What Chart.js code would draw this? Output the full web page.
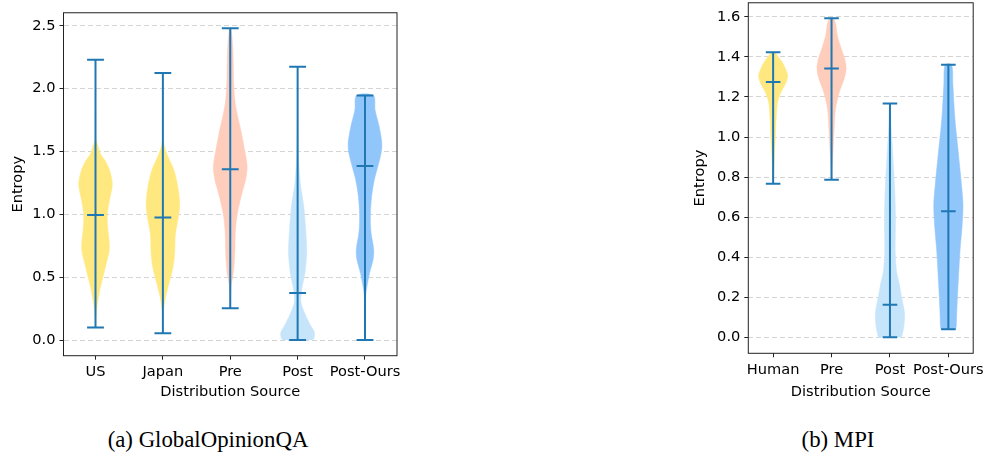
<!DOCTYPE html>
<html>
<head>
<meta charset="utf-8">
<script src="https://cdn.jsdelivr.net/npm/chart.js@4.4.1/dist/chart.umd.min.js"></script>
<style>
  body { margin: 0; width: 989px; height: 458px; overflow: hidden; background: #fff; position: relative; }
  #c1 { position: absolute; left: 0; top: 0; }
  #c2 { position: absolute; left: 680px; top: -10px; }
  .cap { position: absolute; top: 427px; width: 320px; text-align: center; font-family: 'Liberation Serif', serif;
         font-size: 24px; line-height: 24px; color: #000; transform: scaleX(0.95); white-space: nowrap; }
</style>
</head>
<body>
<canvas id="c1" width="410" height="410"></canvas>
<canvas id="c2" width="309" height="420"></canvas>
<div class="cap" style="left:47.5px">(a) GlobalOpinionQA</div>
<div class="cap" style="left:678px">(b) MPI</div>
<script>
// ---- (a) GlobalOpinionQA ----
const goqaLabels = ['US', 'Japan', 'Pre', 'Post', 'Post-Ours'];
const goqaMin = [0.10, 0.055, 0.253, 0.0, 0.0];
const goqaMax = [2.23, 2.125, 2.48, 2.175, 1.945];
const goqaMean = [0.995, 0.975, 1.36, 0.375, 1.385];
const goqaTicks = [0, 0.5, 1.0, 1.5, 2.0, 2.5];

// perfil dos violinos: niveis de entropia e largura relativa (1 = mais largo)
const usLevels = [0.10, 0.16, 0.26, 0.40, 0.50, 0.61, 0.70, 0.77, 0.87, 1.00, 1.12, 1.24, 1.35, 1.43, 1.48, 1.54, 1.60, 1.70, 2.23];
const usWidths = [0.0, 0.02, 0.08, 0.26, 0.44, 0.64, 0.80, 0.82, 0.74, 0.70, 0.84, 1.0, 0.84, 0.56, 0.30, 0.16, 0.02, 0.01, 0.0];
const japanLevels = [0.055, 0.15, 0.24, 0.34, 0.45, 0.58, 0.69, 0.84, 0.98, 1.08, 1.21, 1.35, 1.48, 1.58, 1.70, 2.125];
const japanWidths = [0.0, 0.01, 0.04, 0.16, 0.36, 0.60, 0.70, 0.74, 0.92, 1.0, 0.90, 0.66, 0.24, 0.03, 0.01, 0.0];
const preALevels = [0.253, 0.44, 0.51, 0.62, 0.73, 0.86, 0.99, 1.095, 1.20, 1.28, 1.385, 1.52, 1.65, 1.78, 1.90, 2.05, 2.20, 2.35, 2.48];
const preAWidths = [0.0, 0.06, 0.16, 0.24, 0.28, 0.30, 0.40, 0.56, 0.76, 0.92, 1.0, 0.84, 0.66, 0.44, 0.28, 0.20, 0.18, 0.14, 0.04];
const postALevels = [0.0, 0.01, 0.06, 0.11, 0.19, 0.30, 0.40, 0.54, 0.70, 0.88, 1.07, 1.25, 1.45, 1.70, 2.175];
const postAWidths = [0.85, 0.96, 1.0, 0.8, 0.5, 0.2, 0.24, 0.44, 0.54, 0.48, 0.36, 0.16, 0.06, 0.02, 0.0];
const oursALevels = [0.0, 0.35, 0.43, 0.54, 0.64, 0.72, 0.855, 0.99, 1.15, 1.28, 1.38, 1.49, 1.57, 1.70, 1.83, 1.945];
const oursAWidths = [0.0, 0.04, 0.12, 0.28, 0.48, 0.52, 0.36, 0.32, 0.40, 0.56, 0.76, 0.96, 1.0, 0.84, 0.60, 0.50];

// ---- (b) MPI ----
const mpiLabels = ['Human', 'Pre', 'Post', 'Post-Ours'];
const mpiMin = [0.767, 0.787, 0.0, 0.041];
const mpiMax = [1.423, 1.593, 1.167, 1.36];
const mpiMean = [1.274, 1.342, 0.163, 0.63];
const mpiTicks = [0, 0.2, 0.4, 0.6, 0.8, 1.0, 1.2, 1.4, 1.6];

const humanLevels = [0.767, 0.81, 0.91, 1.01, 1.11, 1.175, 1.225, 1.266, 1.304, 1.34, 1.373, 1.406, 1.423];
const humanWidths = [0.0, 0.04, 0.09, 0.16, 0.22, 0.31, 0.54, 0.85, 1.0, 0.85, 0.62, 0.30, 0.10];
const preBLevels = [0.787, 0.845, 0.94, 1.04, 1.14, 1.225, 1.29, 1.34, 1.39, 1.44, 1.506, 1.57, 1.593];
const preBWidths = [0.0, 0.04, 0.11, 0.18, 0.27, 0.54, 0.86, 1.0, 0.90, 0.67, 0.40, 0.27, 0.10];
const postBLevels = [0.0, 0.054, 0.12, 0.20, 0.27, 0.33, 0.43, 0.60, 0.76, 0.93, 1.05, 1.167];
const postBWidths = [0.8, 0.95, 1.0, 0.8, 0.63, 0.45, 0.36, 0.38, 0.31, 0.18, 0.08, 0.02];
const oursBLevels = [0.041, 0.054, 0.137, 0.27, 0.434, 0.566, 0.665, 0.76, 0.93, 1.09, 1.26, 1.36];
const oursBWidths = [0.5, 0.54, 0.58, 0.67, 0.8, 0.95, 1.0, 0.9, 0.67, 0.45, 0.31, 0.22];

const yellow = 'rgb(255,232,128)';
const salmon = 'rgb(255,205,187)';
const lightBlue = 'rgb(198,228,250)';
const blue = 'rgb(145,198,250)';
const lineBlue = '#1f77b4';

Chart.defaults.font.family = "'DejaVu Sans', sans-serif";
Chart.defaults.font.size = 14.6;
Chart.defaults.color = '#000';

// contorno do violino: lado direito de baixo para cima, depois lado esquerdo de cima para baixo
function violinPoints(center, levels, widths) {
    const half = 0.25;
    const right = levels.map((v, i) => ({ x: center + half * widths[i], y: v }));
    const left = levels.map((v, i) => ({ x: center - half * widths[i], y: v })).reverse();
    return right.concat(left);
}

// hastes, tampas (min / max) e linha da media
function stemPoints(mins, maxs, means) {
    const pts = [];
    const h = 0.125;
    mins.forEach((mn, i) => {
        const c = i + 1;
        pts.push({ x: c, y: mn }, { x: c, y: maxs[i] }, { x: c, y: null });
        [mn, maxs[i], means[i]].forEach(v => {
            pts.push({ x: c - h, y: v }, { x: c + h, y: v }, { x: c, y: null });
        });
    });
    return pts;
}

const frame = {
    id: 'frame',
    afterDatasetsDraw(chart) {
        const a = chart.chartArea, c = chart.ctx;
        c.save();
        c.strokeStyle = '#222';
        c.lineWidth = 1;
        c.strokeRect(a.left, a.top, a.right - a.left, a.bottom - a.top);
        c.restore();
    }
};

function makeChart(id, labels, mins, maxs, means, profiles, colors, ticks, geo) {
    const datasets = [{
        type: 'scatter',
        data: stemPoints(mins, maxs, means),
        showLine: true,
        borderColor: lineBlue,
        borderWidth: 2,
        pointRadius: 0,
        spanGaps: false,
        order: 0
    }];
    profiles.forEach((p, i) => {
        datasets.push({
            type: 'scatter',
            data: violinPoints(i + 1, p[0], p[1]),
            showLine: true,
            fill: 'shape',
            backgroundColor: colors[i],
            borderColor: colors[i],
            borderWidth: 0.5,
            pointRadius: 0,
            tension: 0.3,
            order: 1
        });
    });

    return new Chart(document.getElementById(id), {
        type: 'scatter',
        data: { datasets: datasets },
        plugins: [frame],
        options: {
            responsive: false,
            animation: false,
            events: [],
            layout: { padding: { top: geo.top, right: geo.right, left: 0, bottom: 0 } },
            plugins: { legend: { display: false }, tooltip: { enabled: false } },
            scales: {
                x: {
                    type: 'linear',
                    min: geo.xMin,
                    max: geo.xMax,
                    afterBuildTicks: axis => { axis.ticks = labels.map((l, i) => ({ value: i + 1 })); },
                    afterFit: axis => { axis.height = geo.xHeight; },
                    ticks: {
                        callback: v => labels[Math.round(v) - 1],
                        maxRotation: 0,
                        autoSkip: false,
                        padding: 4
                    },
                    grid: { drawOnChartArea: false, tickLength: 4, tickColor: '#222', tickWidth: 1 },
                    border: { display: false },
                    title: { display: true, text: 'Distribution Source', padding: { top: 0, bottom: 9 } }
                },
                y: {
                    type: 'linear',
                    min: geo.yMin,
                    max: geo.yMax,
                    afterBuildTicks: axis => { axis.ticks = ticks.map(v => ({ value: v })); },
                    afterFit: axis => { axis.width = geo.yWidth; },
                    ticks: { callback: v => v.toFixed(1), padding: 4 },
                    grid: { color: '#d4d4d4', lineWidth: 1, tickLength: 4, tickColor: '#222', tickWidth: 1 },
                    border: { display: false, dash: [5, 3] },
                    title: { display: true, text: 'Entropy', padding: { top: geo.yTitlePad, bottom: 0 } }
                }
            }
        }
    });
}

makeChart('c1', goqaLabels, goqaMin, goqaMax, goqaMean,
    [[usLevels, usWidths], [japanLevels, japanWidths], [preALevels, preAWidths], [postALevels, postAWidths], [oursALevels, oursAWidths]],
    [yellow, yellow, salmon, lightBlue, blue], goqaTicks,
    { top: 10.7, right: 13, xHeight: 54.3, yWidth: 63.5, yTitlePad: 9.3, xMin: 0.525, xMax: 5.475, yMin: -0.124, yMax: 2.604 });

makeChart('c2', mpiLabels, mpiMin, mpiMax, mpiMean,
    [[humanLevels, humanWidths], [preBLevels, preBWidths], [postBLevels, postBWidths], [oursBLevels, oursBWidths]],
    [yellow, salmon, lightBlue, blue], mpiTicks,
    { top: 8.4, right: 12.3, xHeight: 56.7, yWidth: 68.3, yTitlePad: 11, xMin: 0.575, xMax: 4.425, yMin: -0.0795, yMax: 1.67 });
</script>
</body>
</html>
